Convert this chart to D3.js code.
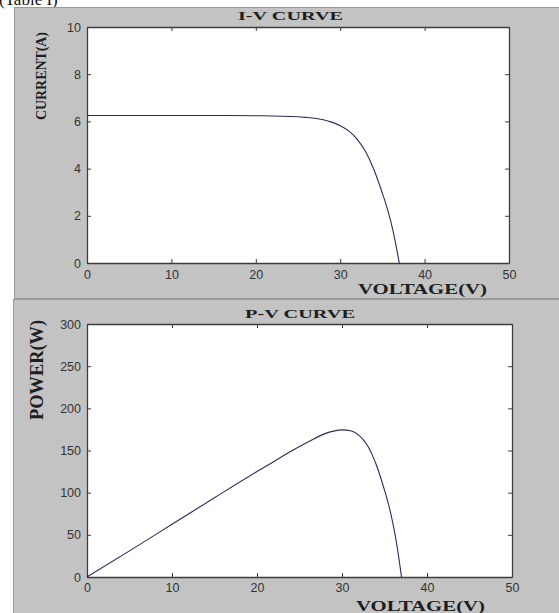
<!DOCTYPE html>
<html>
<head>
<meta charset="utf-8">
<script src="https://cdn.jsdelivr.net/npm/d3@7/dist/d3.min.js"></script>
<style>
  html, body { margin: 0; padding: 0; background: #fff; }
  svg { display: block; }
  .tick text { font-family: "Liberation Sans", Arial, sans-serif; font-size: 12.5px; fill: #333; }
  .serif { font-family: "Liberation Serif", "Times New Roman", serif; font-weight: bold; fill: #1e1e1e; }
</style>
</head>
<body>
<svg id="chart" width="559" height="613"></svg>
<script>
// Solar module characteristics: current and power against terminal voltage
const ivVoltage = [0, 5, 10, 15, 20, 22, 24, 26, 28, 29, 30, 31, 32, 33, 34, 35, 35.5, 36, 36.5, 37];
const ivCurrent = [6.25, 6.25, 6.25, 6.25, 6.24, 6.23, 6.21, 6.17, 6.07, 5.97, 5.82, 5.60, 5.25, 4.72, 3.95, 2.95, 2.40, 1.75, 0.95, 0];

const pvVoltage = [0, 5, 10, 15, 20, 22, 24, 26, 28, 29, 30, 31, 32, 33, 34, 35, 35.5, 36, 36.5, 37];
const pvPower   = [0, 31, 62.5, 94, 125, 137, 149, 160, 170, 173, 174.5, 173.5, 168, 156, 134, 103, 85, 63, 35, 0];

const xTicks = [0, 10, 20, 30, 40, 50];
const ivTicks = [0, 2, 4, 6, 8, 10];
const pvTicks = [0, 50, 100, 150, 200, 250, 300];

const svg = d3.select("#chart");

// caption above the figure, partly hidden by the page top
svg.append("text")
  .attr("x", -1).attr("y", 5)
  .attr("font-family", "Liberation Serif, Times New Roman, serif")
  .attr("font-size", 17).attr("fill", "#111")
  .text("(Table I)");

// gray figure backgrounds
svg.append("rect").attr("x", 14.5).attr("y", 7.5).attr("width", 560).attr("height", 291)
  .attr("fill", "#c3c3c3").attr("stroke", "#9a9a9a");
svg.append("rect").attr("x", 13.5).attr("y", 299.5).attr("width", 560).attr("height", 320)
  .attr("fill", "#c3c3c3").attr("stroke", "#9a9a9a");

function panel(cfg) {
  const x = d3.scaleLinear().domain([0, 50]).range([cfg.left, cfg.right]);
  const y = d3.scaleLinear().domain(cfg.yDomain).range([cfg.bottom, cfg.top]);
  const g = svg.append("g");

  g.append("rect")
    .attr("x", cfg.left).attr("y", cfg.top)
    .attr("width", cfg.right - cfg.left).attr("height", cfg.bottom - cfg.top)
    .attr("fill", "#fff");

  const styleAxis = sel => {
    sel.select(".domain").attr("stroke", "#3c3c3c").attr("stroke-width", 1.3);
    sel.selectAll(".tick line").attr("stroke", "#3c3c3c");
  };

  g.append("g").attr("transform", `translate(0,${cfg.bottom})`)
    .call(d3.axisBottom(x).tickValues(xTicks).tickSize(-4).tickPadding(cfg.xPad).tickSizeOuter(0))
    .call(styleAxis);
  g.append("g").attr("transform", `translate(0,${cfg.top})`)
    .call(d3.axisTop(x).tickValues(xTicks).tickSize(-4).tickFormat("").tickSizeOuter(0))
    .call(styleAxis);
  g.append("g").attr("transform", `translate(${cfg.left},0)`)
    .call(d3.axisLeft(y).tickValues(cfg.yTicks).tickSize(-4).tickPadding(6).tickSizeOuter(0))
    .call(styleAxis);
  g.append("g").attr("transform", `translate(${cfg.right},0)`)
    .call(d3.axisRight(y).tickValues(cfg.yTicks).tickSize(-4).tickFormat("").tickSizeOuter(0))
    .call(styleAxis);

  const line = d3.line()
    .x((d, i) => x(cfg.xs[i]))
    .y(d => y(d))
    .curve(d3.curveMonotoneX);
  g.append("path")
    .datum(cfg.ys)
    .attr("d", line)
    .attr("fill", "none")
    .attr("stroke", "#2b2b5e")
    .attr("stroke-width", 1.1);

  g.append("text").attr("class", "serif")
    .attr("x", cfg.titleX).attr("y", cfg.titleY)
    .attr("font-size", 13)
    .attr("textLength", cfg.titleLen).attr("lengthAdjust", "spacingAndGlyphs")
    .text(cfg.title);

  g.append("text").attr("class", "serif")
    .attr("x", cfg.xLabelX).attr("y", cfg.xLabelY)
    .attr("font-size", 15)
    .attr("textLength", 129).attr("lengthAdjust", "spacingAndGlyphs")
    .text("VOLTAGE(V)");

  g.append("text").attr("class", "serif")
    .attr("transform", `translate(${cfg.yLabelX},${cfg.yLabelY}) rotate(-90)`)
    .attr("text-anchor", "middle")
    .attr("dominant-baseline", "central")
    .attr("font-size", cfg.yLabelSize)
    .attr("textLength", cfg.yLabelLen).attr("lengthAdjust", "spacingAndGlyphs")
    .text(cfg.yLabel);
}

panel({
  left: 87, right: 509, top: 27, bottom: 263,
  yDomain: [0, 10], yTicks: ivTicks, xPad: 7,
  xs: ivVoltage, ys: ivCurrent,
  title: "I-V CURVE", titleX: 238, titleY: 20, titleLen: 105,
  xLabelX: 358, xLabelY: 294,
  yLabel: "CURRENT(A)", yLabelX: 41, yLabelY: 76, yLabelSize: 15, yLabelLen: 88
});

panel({
  left: 87, right: 512, top: 324, bottom: 577,
  yDomain: [0, 300], yTicks: pvTicks, xPad: 6,
  xs: pvVoltage, ys: pvPower,
  title: "P-V CURVE", titleX: 245, titleY: 318, titleLen: 110,
  xLabelX: 356, xLabelY: 611,
  yLabel: "POWER(W)", yLabelX: 36, yLabelY: 370, yLabelSize: 19, yLabelLen: 100
});
</script>
</body>
</html>
